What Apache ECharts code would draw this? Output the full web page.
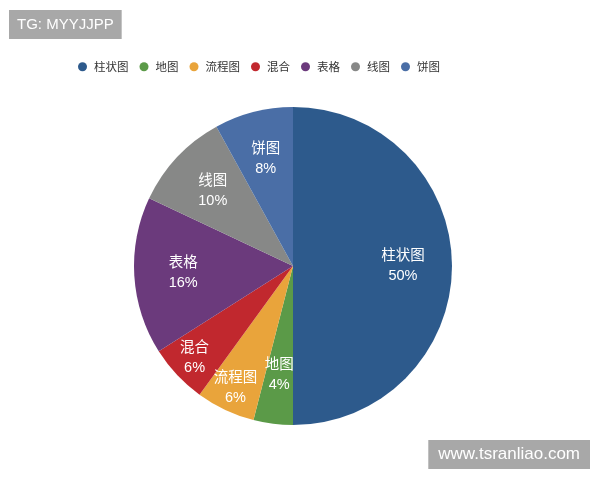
<!DOCTYPE html>
<html><head><meta charset="utf-8">
<script src="https://cdn.jsdelivr.net/npm/echarts@6/dist/echarts.min.js"></script>
<style>html,body{margin:0;padding:0;background:#fff}#c{width:600px;height:480px}</style>
</head><body><div id="c"></div>
<script>
var categories = ['柱状图','地图','流程图','混合','表格','线图','饼图'];
var values = [50, 4, 6, 6, 16, 10, 8];
var colors = ['#2d5a8c','#5b9a48','#e9a43b','#c1282e','#6b3a7c','#878887','#4a6ea6'];
// labels of these slices sit further out from the centre
var farLabelNames = ['流程图','混合'];

function buildData(showFar) {
  return categories.map(function(c,i){
    var far = farLabelNames.indexOf(c) >= 0;
    return {name:c, value:values[i], label:{show: far === showFar}};
  });
}
var labelStyle = {position:'inside', formatter:'{b}\n{d}%', color:'#fff', fontSize:14.5, lineHeight:20,
  padding:[4,0,0,0], fontFamily:'Liberation Sans, Noto Sans CJK SC'};

var chart = echarts.init(document.getElementById('c'));
chart.setOption({
  color: colors,
  animation: false,
  title: [
    {text:'TG: MYYJJPP', left:9, top:10, backgroundColor:'#a8a8a8', padding:[7,8,7,8],
     textStyle:{color:'#fff', fontSize:15, fontWeight:'normal', fontFamily:'Liberation Sans, Arial, sans-serif'}},
    {text:'www.tsranliao.com', right:10, bottom:11, backgroundColor:'#a8a8a8', padding:[6,10,6,10],
     textStyle:{color:'#fff', fontSize:17, fontWeight:'normal', fontFamily:'Liberation Sans, Arial, sans-serif'}}
  ],
  legend: {
    data: categories, left: 73, top: 56, icon: 'circle', itemWidth: 9, itemHeight: 9, itemGap: 11,
    textStyle: {fontSize: 11.5, color: '#333', fontFamily: 'Noto Sans CJK SC', padding:[0,0,0,2]}
  },
  series: [
    {type:'pie', center:[293,266], radius:[0,159], startAngle:90, clockwise:true,
     data:values.map(function(v,i){return {name:categories[i], value:v};}),
     label:{show:false}, labelLine:{show:false}, itemStyle:{borderWidth:0}},
    {type:'pie', center:[293,266], radius:[0,214], startAngle:90, clockwise:true, silent:true,
     legendHoverLink:false, data:buildData(false), itemStyle:{color:'rgba(0,0,0,0)'}, labelLine:{show:false},
     labelLayout:{hideOverlap:false}, label:labelStyle},
    {type:'pie', center:[293,266], radius:[0,264], startAngle:90, clockwise:true, silent:true,
     legendHoverLink:false, data:buildData(true), itemStyle:{color:'rgba(0,0,0,0)'}, labelLine:{show:false},
     labelLayout:{hideOverlap:false}, label:labelStyle}
  ]
});
</script></body></html>
